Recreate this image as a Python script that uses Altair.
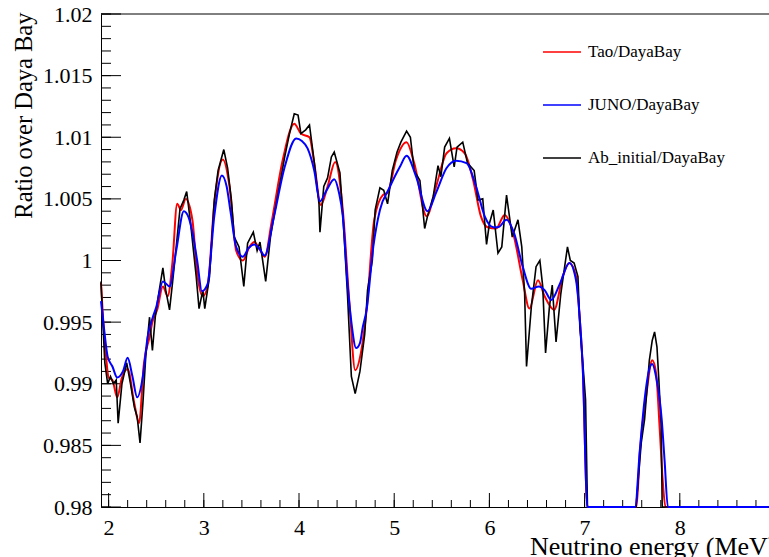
import altair as alt
import pandas as pd
import numpy as np

# ---------------- data ----------------
series_names = ["Tao/DayaBay", "JUNO/DayaBay", "Ab_initial/DayaBay"]
series_colors = ["#ff0000", "#0000ff", "#000000"]

tao_e = [1.92, 1.94, 1.97, 2.00, 2.04, 2.09, 2.14, 2.20, 2.27, 2.32, 2.37, 2.43, 2.46, 2.51,
         2.57, 2.62, 2.67, 2.72, 2.76, 2.81, 2.88, 2.93, 2.99, 3.04, 3.11, 3.20, 3.27, 3.34,
         3.41, 3.48, 3.53, 3.58, 3.64, 3.71, 3.83, 3.95, 4.02, 4.11, 4.16, 4.23, 4.30, 4.38,
         4.46, 4.53, 4.59, 4.65, 4.71, 4.79, 4.88, 4.93, 5.02, 5.13, 5.21, 5.34, 5.44, 5.55,
         5.65, 5.74, 5.83, 5.91, 5.98, 6.07, 6.16, 6.25, 6.35, 6.42, 6.51, 6.58, 6.68, 6.77,
         6.84, 6.91, 6.95, 6.98, 7.03, 7.05, 7.53, 7.545, 7.58, 7.65, 7.71, 7.75, 7.79, 7.82,
         7.85, 7.87, 8.95]
tao_v = [0.9982, 0.9955, 0.9925, 0.9905, 0.9903, 0.9889, 0.9905, 0.9912, 0.9884, 0.9868,
         0.9916, 0.9938, 0.9950, 0.9960, 0.9979, 0.9971, 0.9998, 1.0046, 1.0041, 1.0050,
         1.0033, 0.9990, 0.9971, 0.9979, 1.0046, 1.0082, 1.0060, 1.0008, 1.0000, 1.0011,
         1.0015, 1.0010, 1.0003, 1.0030, 1.0082, 1.0111, 1.0103, 1.0100, 1.0079, 1.0045,
         1.0060, 1.0080, 1.0041, 0.9965, 0.9911, 0.9925, 0.9960, 1.0033, 1.0053, 1.0055,
         1.0082, 1.0096, 1.0079, 1.0036, 1.0060, 1.0087, 1.0091, 1.0087, 1.0065, 1.0036,
         1.0027, 1.0026, 1.0037, 1.0022, 0.9984, 0.9961, 0.9984, 0.9971, 0.9960, 0.9987,
         0.9998, 0.9987, 0.9952, 0.9914, 0.975, 0.0, 0.0, 0.98, 0.9844, 0.9892, 0.9919,
         0.9909, 0.9862, 0.9822, 0.98, 0.0, 0.0]

juno_e = [1.92, 1.95, 1.99, 2.04, 2.09, 2.15, 2.20, 2.25, 2.30, 2.36, 2.41, 2.46, 2.50, 2.57,
          2.64, 2.71, 2.79, 2.84, 2.88, 2.93, 2.98, 3.04, 3.11, 3.19, 3.24, 3.28, 3.34, 3.41,
          3.47, 3.53, 3.58, 3.64, 3.73, 3.85, 3.97, 4.03, 4.09, 4.16, 4.22, 4.29, 4.37, 4.42,
          4.46, 4.51, 4.55, 4.60, 4.64, 4.67, 4.71, 4.78, 4.85, 4.95, 5.06, 5.13, 5.23, 5.35,
          5.44, 5.55, 5.65, 5.76, 5.86, 5.95, 6.04, 6.09, 6.18, 6.26, 6.35, 6.44, 6.52, 6.58,
          6.65, 6.74, 6.84, 6.91, 6.95, 6.98, 7.03, 7.05, 7.52, 7.53, 7.58, 7.63, 7.68, 7.71,
          7.75, 7.81, 7.84, 7.875, 7.89, 8.95]
juno_v = [0.9967, 0.9946, 0.9922, 0.9914, 0.9905, 0.9910, 0.9921, 0.9906, 0.9889, 0.9906,
          0.9938, 0.9953, 0.9962, 0.9983, 0.9979, 1.0008, 1.0040, 1.0035, 1.0023, 1.0000,
          0.9975, 0.9981, 1.0036, 1.0069, 1.0060, 1.0040, 1.0011, 1.0003, 1.0010, 1.0013,
          1.0010, 1.0004, 1.0033, 1.0076, 1.0099, 1.0097, 1.0091, 1.0073, 1.0048, 1.0057,
          1.0066, 1.0055, 1.0036, 0.9981, 0.9950, 0.9929, 0.9933, 0.9946, 0.9960, 1.0011,
          1.0041, 1.0059, 1.0076, 1.0085, 1.0068, 1.0040, 1.0055, 1.0075, 1.0081, 1.0079,
          1.0060, 1.0036, 1.0027, 1.0027, 1.0033, 1.0022, 0.9995, 0.9977, 0.9979, 0.9976,
          0.9968, 0.9981, 0.9998, 0.9984, 0.9952, 0.9914, 0.975, 0.0, 0.0, 0.98, 0.9846,
          0.9887, 0.9912, 0.9916, 0.9906, 0.9871, 0.9838, 0.98, 0.0, 0.0]

ab_e = [1.92, 1.94, 1.96, 1.99, 2.02, 2.05, 2.08, 2.10, 2.14, 2.19, 2.23, 2.27, 2.30, 2.33,
        2.36, 2.39, 2.43, 2.46, 2.49, 2.52, 2.57, 2.60, 2.64, 2.67, 2.71, 2.75, 2.79, 2.82,
        2.86, 2.92, 2.95, 2.99, 3.01, 3.06, 3.11, 3.15, 3.21, 3.25, 3.29, 3.32, 3.37, 3.42,
        3.46, 3.52, 3.56, 3.59, 3.65, 3.70, 3.76, 3.85, 3.90, 3.95, 3.99, 4.02, 4.07, 4.11,
        4.16, 4.21, 4.22, 4.26, 4.30, 4.34, 4.37, 4.43, 4.47, 4.51, 4.55, 4.59, 4.64, 4.69,
        4.72, 4.77, 4.80, 4.85, 4.89, 4.93, 4.98, 5.03, 5.07, 5.13, 5.17, 5.21, 5.27, 5.32,
        5.35, 5.41, 5.46, 5.49, 5.53, 5.58, 5.63, 5.66, 5.72, 5.77, 5.84, 5.88, 5.93, 5.97,
        6.00, 6.04, 6.09, 6.13, 6.18, 6.24, 6.30, 6.34, 6.37, 6.39, 6.44, 6.49, 6.53, 6.56,
        6.59, 6.63, 6.66, 6.70, 6.75, 6.82, 6.85, 6.89, 6.93, 6.95, 6.99, 7.01, 7.03, 7.05,
        7.53, 7.54, 7.595, 7.63, 7.68, 7.71, 7.735, 7.76, 7.78, 7.805, 7.815, 7.83, 8.95]
ab_v = [0.9983, 0.9949, 0.9917, 0.9900, 0.9906, 0.9900, 0.9903, 0.9868, 0.9900, 0.9917,
        0.9900, 0.9881, 0.9873, 0.9852, 0.9884, 0.9922, 0.9954, 0.9927, 0.9954, 0.9970,
        0.9994, 0.9976, 0.9960, 0.9981, 1.0011, 1.0042, 1.0049, 1.0056, 1.0031, 0.9987,
        0.9961, 0.9976, 0.9961, 0.9987, 1.0049, 1.0073, 1.0090, 1.0075, 1.0049, 1.0019,
        1.0011, 0.9979, 1.0014, 1.0023, 1.0008, 1.0015, 0.9983, 1.0019, 1.0046, 1.0084,
        1.0103, 1.0119, 1.0118, 1.0103, 1.0106, 1.0110, 1.0080, 1.0046, 1.0023, 1.0060,
        1.0067, 1.0084, 1.0088, 1.0071, 1.0025, 0.9971, 0.9906, 0.9892, 0.9910, 0.9940,
        0.9976, 1.0000, 1.0041, 1.0059, 1.0057, 1.0046, 1.0073, 1.0088, 1.0096, 1.0105,
        1.0100, 1.0073, 1.0065, 1.0026, 1.0036, 1.0052, 1.0077, 1.0068, 1.0092, 1.0099,
        1.0076, 1.0092, 1.0096, 1.0079, 1.0073, 1.0049, 1.0050, 1.0013, 1.0030, 1.0041,
        1.0006, 1.0011, 1.0053, 1.0019, 1.0033, 1.0011, 0.9973, 0.9914, 0.9962, 0.9995,
        1.0000, 0.9979, 0.9925, 0.9962, 0.9980, 0.9934, 0.9973, 1.0011, 1.0000, 0.9998,
        0.9987, 0.9946, 0.9908, 0.9887, 0.975, 0.0, 0.0, 0.98, 0.9852, 0.9871, 0.9919,
        0.9935, 0.9942, 0.9930, 0.9903, 0.9865, 0.975, 0.0, 0.0]

x_major = [2, 3, 4, 5, 6, 7, 8]
x_minor = [round(2.0 + 0.2 * i, 1) for i in range(35)]
y_major = [0.98, 0.985, 0.99, 0.995, 1.0, 1.005, 1.01, 1.015, 1.02]
y_minor = [round(0.98 + 0.001 * i, 3) for i in range(41)]

# ---------------- layout ----------------
W, H = 668, 493
FONT = "Liberation Serif"

def frame(e, v, name):
    return pd.DataFrame({"e": e, "v": v, "series": name})

df_tao = frame(tao_e, tao_v, series_names[0])
df_juno = frame(juno_e, juno_v, series_names[1])
df_ab = frame(ab_e, ab_v, series_names[2])

xscale = alt.Scale(domain=[1.92, 8.937], nice=False, zero=False)
yscale = alt.Scale(domain=[0.98, 1.02], nice=False, zero=False, clamp=True)

xaxis = alt.Axis(values=x_major, format="d", ticks=False, grid=False,
                 labelBaseline="alphabetic", labelPadding=27, labelFlush=False,
                 title="Neutrino energy (MeV)", titleFontSize=26,
                 titleX=675, titleY=47, titleAlign="right", titleBaseline="alphabetic")
yaxis = alt.Axis(values=y_major, format="~g", ticks=False, grid=False,
                 labelPadding=9, labelFlush=False, labelBaseline="middle",
                 title="Ratio over Daya Bay",
                 titleAngle=270, titleX=-70, titleY=-2, titleAlign="right",
                 titleBaseline="alphabetic")

cscale = alt.Scale(domain=series_names, range=series_colors)
legend = alt.Legend(orient="none", legendX=441, legendY=18, title=None,
                    symbolType="stroke", symbolSize=1444, symbolStrokeWidth=1.5,
                    labelFont=FONT, labelFontSize=17, labelColor="black",
                    labelOffset=6, rowPadding=25, padding=0)

def line(df, width, interp):
    return alt.Chart(df).mark_line(strokeWidth=width, clip=False, interpolate=interp).encode(
        x=alt.X("e:Q", scale=xscale, axis=xaxis),
        y=alt.Y("v:Q", scale=yscale, axis=yaxis),
        color=alt.Color("series:N", scale=cscale, legend=legend),
    )

ytick_major = alt.Chart(pd.DataFrame({"v": y_major})).mark_rule(color="black", strokeWidth=1).encode(
    y=alt.Y("v:Q", scale=yscale, axis=yaxis), x=alt.value(0), x2=alt.value(20))
ytick_minor = alt.Chart(pd.DataFrame({"v": y_minor})).mark_rule(color="black", strokeWidth=1).encode(
    y=alt.Y("v:Q", scale=yscale, axis=yaxis), x=alt.value(0), x2=alt.value(10))
xtick_major = alt.Chart(pd.DataFrame({"e": x_major})).mark_rule(color="black", strokeWidth=1).encode(
    x=alt.X("e:Q", scale=xscale, axis=xaxis), y=alt.value(H), y2=alt.value(H - 14))
xtick_minor = alt.Chart(pd.DataFrame({"e": x_minor})).mark_rule(color="black", strokeWidth=1).encode(
    x=alt.X("e:Q", scale=xscale, axis=xaxis), y=alt.value(H), y2=alt.value(H - 7))
top_border = alt.Chart(pd.DataFrame({"a": [0]})).mark_rule(color="black", strokeWidth=1).encode(
    x=alt.value(0), x2=alt.value(W), y=alt.value(0))

chart = alt.layer(
    ytick_minor, ytick_major, xtick_minor, xtick_major, top_border,
    line(df_tao, 2, "monotone"), line(df_ab, 1.6, "linear"), line(df_juno, 2, "monotone"),
).properties(
    width=W, height=H,
    autosize=alt.AutoSizeParams(type="none"),
    padding={"left": 101, "top": 14, "right": 0, "bottom": 50},
    background="white",
).configure(
    font=FONT,
).configure_view(
    stroke=None,
).configure_axis(
    labelFont=FONT, labelFontSize=22, labelColor="black",
    titleFont=FONT, titleFontSize=24.5, titleFontWeight="normal", titleColor="black",
    domainColor="black", domainWidth=1,
).configure_legend(
    labelFont=FONT,
)

chart.save("out.html", embed_options={"renderer": "svg", "actions": False})
